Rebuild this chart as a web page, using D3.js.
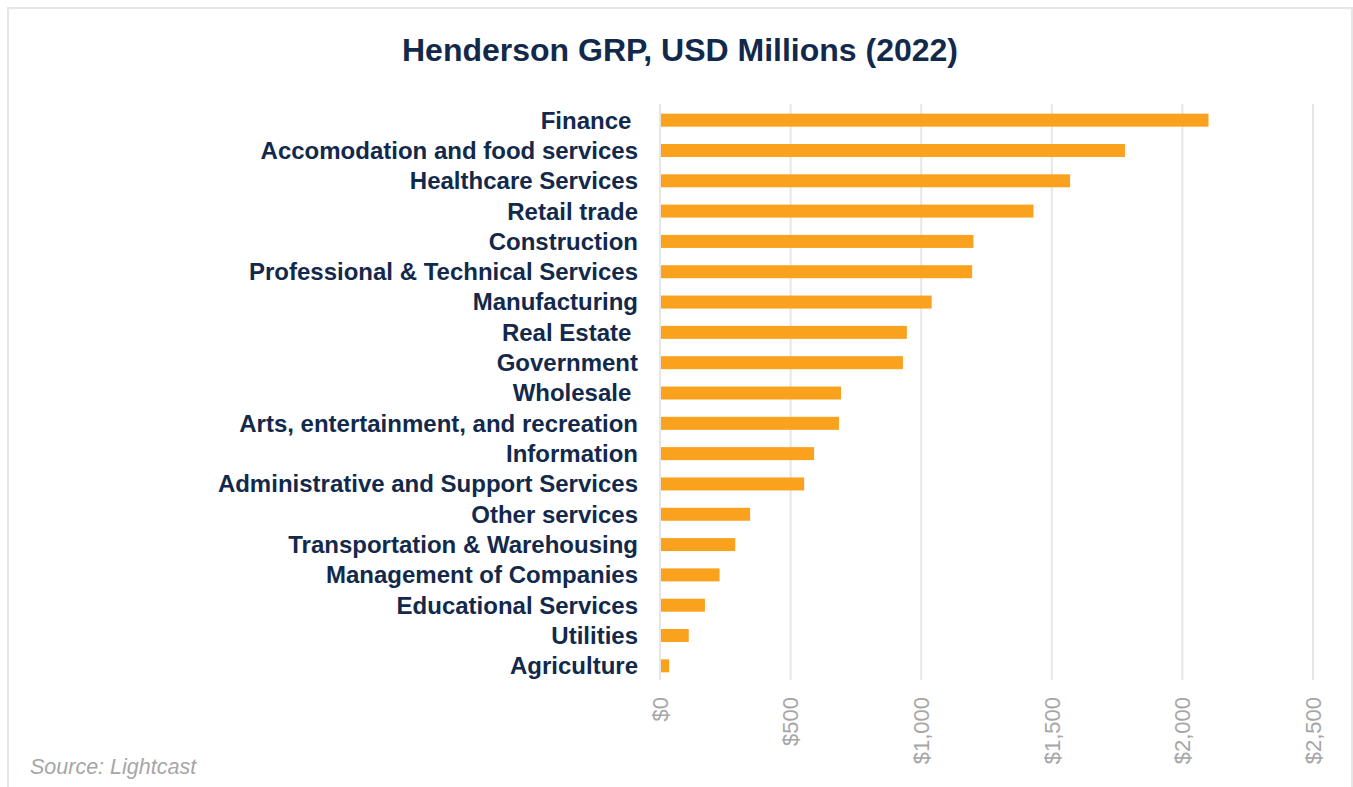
<!DOCTYPE html>
<html>
<head>
<meta charset="utf-8">
<script src="https://cdn.jsdelivr.net/npm/d3@7"></script>
<style>
  html, body { margin: 0; padding: 0; background: #fff; }
  svg { display: block; font-family: "Liberation Sans", Arial, sans-serif; }
</style>
</head>
<body>
<svg id="chart" width="1353" height="787"></svg>
<script>
// Industry categories (top to bottom) and GRP in USD millions
const industries = [
  "Finance ",
  "Accomodation and food services",
  "Healthcare Services",
  "Retail trade",
  "Construction",
  "Professional & Technical Services",
  "Manufacturing",
  "Real Estate ",
  "Government",
  "Wholesale ",
  "Arts, entertainment, and recreation",
  "Information",
  "Administrative and Support Services",
  "Other services",
  "Transportation & Warehousing",
  "Management of Companies",
  "Educational Services",
  "Utilities",
  "Agriculture"
];
const grp = [2100, 1780, 1570, 1430, 1200, 1195, 1040, 945, 930, 693, 685, 590, 552, 345, 288, 228, 172, 110, 35];
const tickValues = [0, 500, 1000, 1500, 2000, 2500];

const title = "Henderson GRP, USD Millions (2022)";
const source = "Source: Lightcast";

const svg = d3.select("#chart");
const navy = "#13294b";

// outer frame
svg.append("rect")
  .attr("x", 8).attr("y", 8)
  .attr("width", 1344).attr("height", 800)
  .attr("fill", "#fff")
  .attr("stroke", "#e6e6e6")
  .attr("stroke-width", 2);

const x = d3.scaleLinear().domain([0, 2500]).range([660, 1313]);
const y = d3.scaleBand()
  .domain(industries)
  .range([105, 681])
  .paddingInner(0.571)
  .paddingOuter(0.2855);

// vertical gridlines
svg.append("g")
  .selectAll("line")
  .data(tickValues)
  .join("line")
  .attr("x1", d => x(d)).attr("x2", d => x(d))
  .attr("y1", 104).attr("y2", 680)
  .attr("stroke", "#e6e6e6")
  .attr("stroke-width", 2);

// bars
svg.append("g")
  .selectAll("rect")
  .data(industries)
  .join("rect")
  .attr("x", x(0) + 1)
  .attr("y", d => y(d))
  .attr("width", (d, i) => x(grp[i]) - x(0) - 1)
  .attr("height", y.bandwidth())
  .attr("fill", "#faa21e");

// category labels
svg.append("g")
  .selectAll("text")
  .data(industries)
  .join("text")
  .attr("x", 638)
  .attr("y", d => y(d) + y.bandwidth() / 2)
  .attr("dy", "0.35em")
  .attr("text-anchor", "end")
  .style("white-space", "pre")
  .attr("font-size", "24px")
  .attr("font-weight", "bold")
  .attr("fill", navy)
  .text(d => d);

// rotated x tick labels
const fmt = d3.format(",");
svg.append("g")
  .selectAll("text")
  .data(tickValues)
  .join("text")
  .attr("transform", d => `translate(${x(d)},697) rotate(-90)`)
  .attr("dy", "0.35em")
  .attr("text-anchor", "end")
  .attr("font-size", "22px")
  .attr("fill", "#a6a6a6")
  .text(d => "$" + fmt(d));

// title
svg.append("text")
  .attr("x", 680).attr("y", 61)
  .attr("text-anchor", "middle")
  .attr("font-size", "32px")
  .attr("font-weight", "bold")
  .attr("fill", navy)
  .text(title);

// source note
svg.append("text")
  .attr("x", 30).attr("y", 774)
  .attr("font-size", "21.5px")
  .attr("font-style", "italic")
  .attr("fill", "#a6a6a6")
  .text(source);
</script>
</body>
</html>
